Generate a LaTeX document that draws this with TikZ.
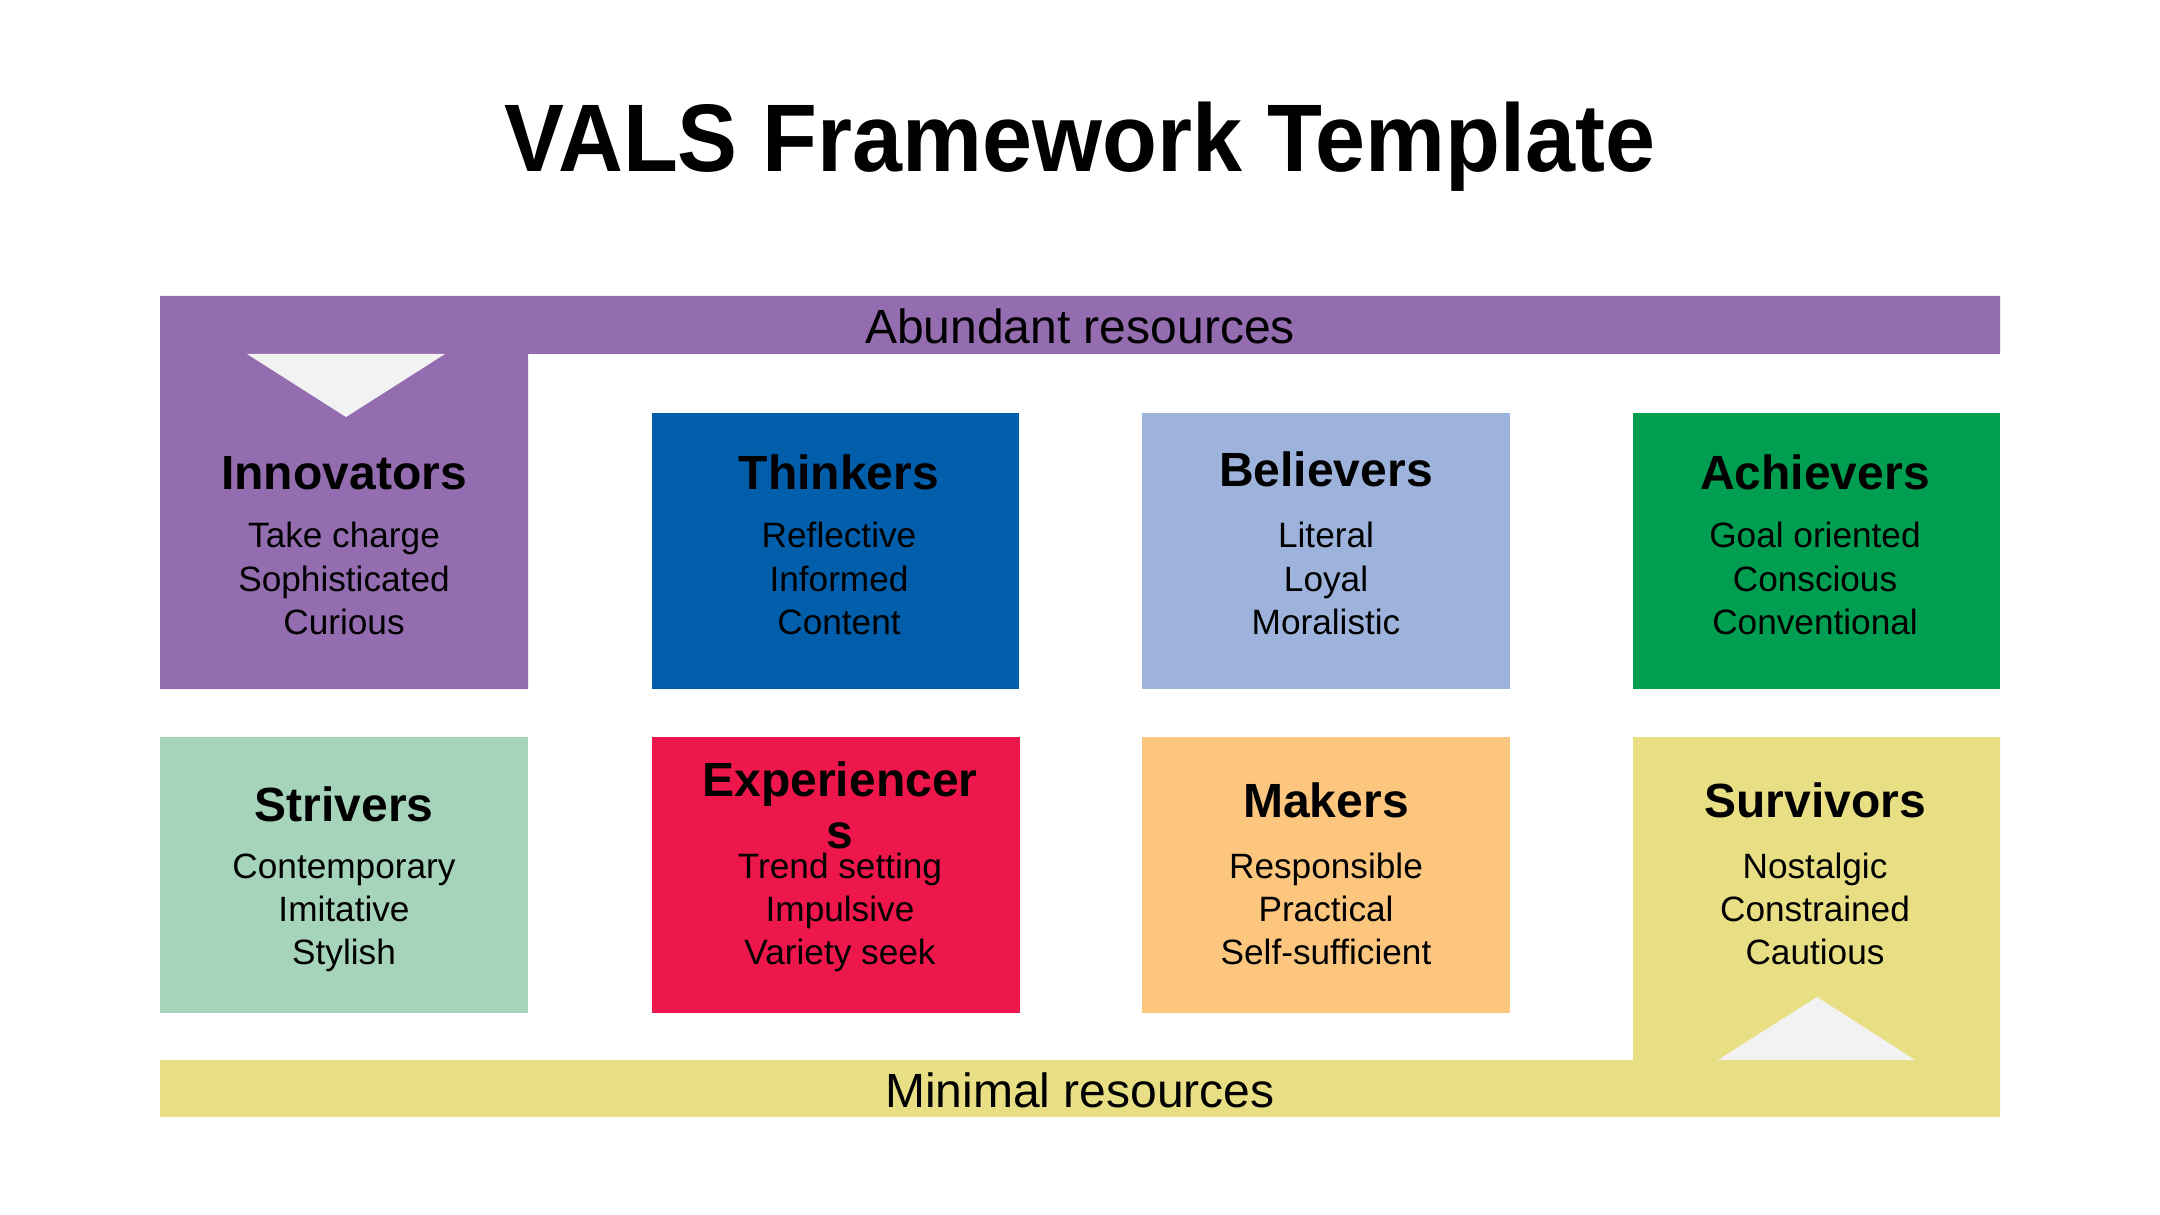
\documentclass[tikz,border=0pt]{standalone}
\usepackage{fontspec}
\setmainfont{Liberation Sans}
\definecolor{vpurple}{RGB}{148,108,176}
\definecolor{vblue}{RGB}{0,94,170}
\definecolor{vlblue}{RGB}{157,179,219}
\definecolor{vgreen}{RGB}{0,158,80}
\definecolor{vmint}{RGB}{165,212,186}
\definecolor{vred}{RGB}{238,23,75}
\definecolor{vorange}{RGB}{253,198,127}
\definecolor{vyellow}{RGB}{232,223,133}
\definecolor{vtri}{RGB}{242,242,242}
\tikzset{
  ttl/.style={inner sep=0pt,font=\fontsize{24bp}{26bp}\selectfont\bfseries,text=black},
  bdy/.style={inner sep=0pt,font=\fontsize{17.6bp}{21bp}\selectfont,text=black},
  barlbl/.style={inner sep=0pt,font=\fontsize{24bp}{26bp}\selectfont,text=black},
}
\newcommand\segtext[8]{%
  \node[ttl,anchor=base] (#1-t) at (#2,#3) {#5};
  \node[bdy,anchor=base] (#1-a) at (#2,#4) {#6};
  \node[bdy,anchor=base] (#1-b) at (#2,#4+43) {#7};
  \node[bdy,anchor=base] (#1-c) at (#2,#4+86) {#8};
}
\begin{document}
\begin{tikzpicture}[x=0.5bp,y=-0.5bp]
\useasboundingbox (0,0) rectangle (2160,1215);
\fill[white] (0,0) rectangle (2160,1215);
% title
\node[inner sep=0pt,anchor=base] (title) at (1080,172)
  {\scalebox{0.936}[1]{\fontsize{48bp}{52bp}\selectfont\bfseries VALS Framework Template}};
% top purple band with Innovators
\fill[vpurple] (160,296) -- (2000,296) -- (2000,354) -- (528,354) -- (528,689) -- (160,689) -- cycle;
\fill[vtri] (247,354) -- (445,354) -- (346,417) -- cycle;
% bottom yellow band with Survivors
\fill[vyellow] (160,1060) -- (1633,1060) -- (1633,737) -- (2000,737) -- (2000,1117) -- (160,1117) -- cycle;
\fill[vtri] (1718,1060) -- (1915,1060) -- (1817,997) -- cycle;
% boxes
\fill[vblue]   (652,413) rectangle (1019,689);
\fill[vlblue]  (1142,413) rectangle (1510,689);
\fill[vgreen]  (1633,413) rectangle (2000,689);
\fill[vmint]   (160,737) rectangle (528,1013);
\fill[vred]    (652,737) rectangle (1020,1013);
\fill[vorange] (1142,737) rectangle (1510,1013);
% band labels
\node[barlbl,anchor=base] (abund) at (1080,344) {Abundant resources};
\node[barlbl,anchor=base] (minim) at (1080,1107) {Minimal resources};
% texts
\segtext{inn}{344}{490}{548}{Innovators}{Take charge}{Sophisticated}{Curious}
\segtext{thi}{839}{490}{548}{Thinkers}{Reflective}{Informed}{Content}
\segtext{bel}{1326}{487}{548}{Believers}{Literal}{Loyal}{Moralistic}
\segtext{ach}{1815}{490}{548}{Achievers}{Goal oriented}{Conscious}{Conventional}
\segtext{str}{344}{821}{878}{Strivers}{Contemporary}{Imitative}{Stylish}
\segtext{mak}{1326}{817}{878}{Makers}{Responsible}{Practical}{Self-sufficient}
\segtext{sur}{1815}{817}{878}{Survivors}{Nostalgic}{Constrained}{Cautious}
% Experiencers (wrapped title)
\node[ttl,anchor=base] (exp-t) at (840,796) {Experiencer};
\node[ttl,anchor=base] (exp-s) at (840,848) {s};
\node[bdy,anchor=base] (exp-a) at (840,878) {Trend setting};
\node[bdy,anchor=base] (exp-b) at (840,921) {Impulsive};
\node[bdy,anchor=base] (exp-c) at (840,964) {Variety seek};
\end{tikzpicture}
\end{document}
